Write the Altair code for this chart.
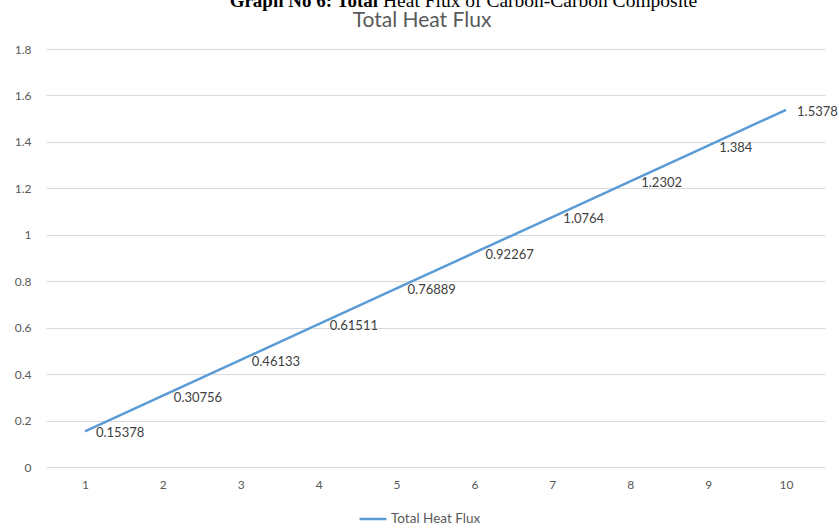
import altair as alt
import pandas as pd

# Run index and total heat flux values for the carbon-carbon composite
runs = ["1", "2", "3", "4", "5", "6", "7", "8", "9", "10"]
heat_flux = [0.15378, 0.30756, 0.46133, 0.61511, 0.76889,
             0.92267, 1.0764, 1.2302, 1.384, 1.5378]
y_ticks = [0, 0.2, 0.4, 0.6, 0.8, 1.0, 1.2, 1.4, 1.6, 1.8]

series_name = "Total Heat Flux"
chart_title = "Total Heat Flux"
caption_lead = "Graph No 6: Total"
caption_rest = "Heat Flux of Carbon-Carbon Composite"

FONT = "Lato"
GREY = "#595959"
BLUE = "#5b9bd5"

df = pd.DataFrame({"run": runs, "flux": heat_flux, "series": series_name})

base = alt.Chart(df).encode(
    x=alt.X(
        "run:O",
        sort=runs,
        scale=alt.Scale(padding=0.5),
        axis=alt.Axis(title=None, labelAngle=0, domain=False, ticks=False,
                      grid=False, labelPadding=12, labelColor=GREY,
                      labelFont=FONT, labelFontSize=12),
    ),
    y=alt.Y(
        "flux:Q",
        scale=alt.Scale(domain=[0, 1.8], nice=False, zero=True),
        axis=alt.Axis(title=None, values=y_ticks, format="~g", domain=False,
                      ticks=False, labelPadding=15, labelColor=GREY,
                      labelFont=FONT, labelFontSize=12, gridColor="#d9d9d9",
                      gridWidth=1),
    ),
)

line = base.mark_line(strokeWidth=2.5).encode(
    color=alt.Color(
        "series:N",
        scale=alt.Scale(range=[BLUE]),
        legend=alt.Legend(title=None, orient="none", legendX=312, legendY=455,
                          symbolType="stroke", symbolSize=729,
                          symbolStrokeWidth=2.5, labelFont=FONT,
                          labelFontSize=13.5, labelColor=GREY, labelOffset=3),
    )
)

values = base.mark_text(align="left", baseline="middle", dx=11, dy=2,
                        font=FONT, fontSize=13, color="#404040").encode(
    text=alt.Text("flux:Q", format="~g")
)

# Header texts above the plot area
title_df = pd.DataFrame({"t": [chart_title]})
title = alt.Chart(title_df).mark_text(
    align="center", baseline="alphabetic", font=FONT, fontSize=21,
    color=GREY,
).encode(text="t:N", x=alt.value(376), y=alt.value(-22))

lead_df = pd.DataFrame({"t": [caption_lead]})
lead = alt.Chart(lead_df).mark_text(
    align="right", baseline="alphabetic", font="Liberation Serif",
    fontSize=19, fontWeight="bold", color="#000000",
).encode(text="t:N", x=alt.value(332), y=alt.value(-42))

rest_df = pd.DataFrame({"t": [caption_rest]})
rest = alt.Chart(rest_df).mark_text(
    align="left", baseline="alphabetic", font="Liberation Serif",
    fontSize=19.5, color="#000000",
).encode(text="t:N", x=alt.value(337), y=alt.value(-42))

chart = alt.layer(line, values, title, lead, rest).properties(
    width=779,
    height=418,
    padding={"left": 46, "top": 49, "right": 14, "bottom": 62},
    autosize=alt.AutoSizeParams(type="none"),
    background="#ffffff",
).configure_view(stroke=None)

chart.save("out.html", embed_options={"renderer": "svg", "actions": False})
